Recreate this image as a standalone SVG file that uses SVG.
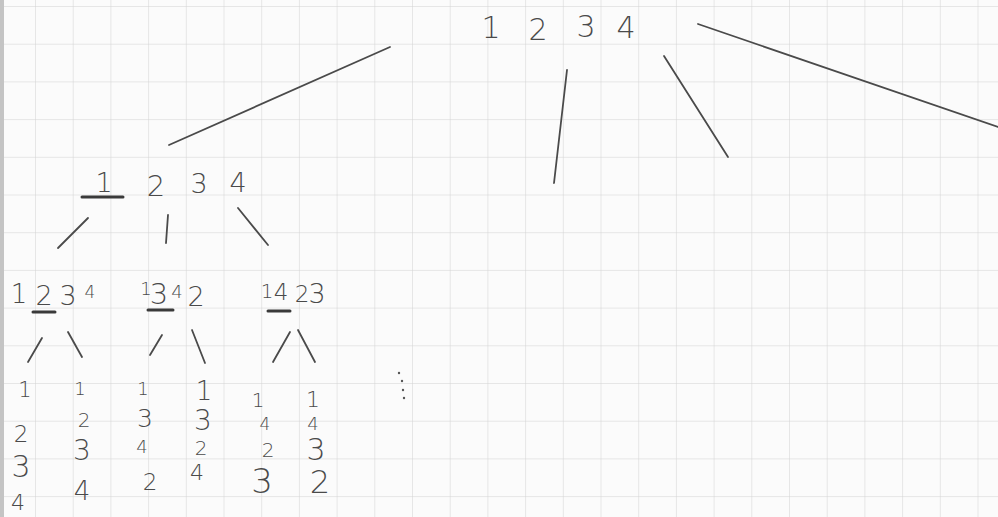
<svg xmlns="http://www.w3.org/2000/svg" width="998" height="517" viewBox="0 0 998 517">
<style>
.d{font-family:"DejaVu Sans","Liberation Sans",sans-serif;font-weight:200;fill:#4a4a4a;text-anchor:middle}
.p{stroke:#4a4a4a;stroke-width:1.8;stroke-linecap:round;fill:none}
.u{stroke:#3a3a3a;stroke-width:3;stroke-linecap:round;fill:none}
.g{stroke:#d2d2d2;stroke-width:1}
.dot{fill:#555}
</style>
<defs>
<pattern id="grid" patternUnits="userSpaceOnUse" x="35" y="6" width="37.7" height="37.7">
<path d="M0 0V37.7M0 0H37.7" class="g"/>
</pattern>
</defs>
<g id="paper">
<rect width="998" height="517" fill="#fbfbfb"/>
<rect width="998" height="517" fill="url(#grid)"/>
<rect x="0" y="0" width="4" height="517" fill="#c4c4c4"/>
</g>
<g id="connectors">
<path class="p" d="M390 47L169 145"/>
<path class="p" d="M567 70L554 183"/>
<path class="p" d="M664 56L728 157"/>
<path class="p" d="M698 24L998 127"/>
<path class="p" d="M88 218L58 248"/>
<path class="p" d="M168 215L166 243"/>
<path class="p" d="M238 208L268 245"/>
<path class="p" d="M42 338L28 362"/>
<path class="p" d="M68 332L82 357"/>
<path class="p" d="M162 335L150 355"/>
<path class="p" d="M192 330L205 363"/>
<path class="p" d="M290 332L273 362"/>
<path class="p" d="M298 330L315 362"/>
</g>
<g id="root">
<text class="d" x="491" y="38" font-size="30">1</text>
<text class="d" x="538" y="40" font-size="30">2</text>
<text class="d" x="586" y="37" font-size="30">3</text>
<text class="d" x="626" y="38" font-size="30">4</text>
</g>
<g id="node-1">
<text class="d" x="104" y="192" font-size="27">1</text>
<path class="u" d="M82 197H123"/>
<text class="d" x="156" y="196" font-size="29">2</text>
<text class="d" x="199" y="193" font-size="27">3</text>
<text class="d" x="238" y="192" font-size="27">4</text>
</g>
<g id="node-12">
<text class="d" x="19" y="303" font-size="26">1</text>
<text class="d" x="44" y="305" font-size="27">2</text>
<path class="u" d="M33 312H55"/>
<text class="d" x="68" y="305" font-size="27">3</text>
<text class="d" x="90" y="298" font-size="17">4</text>
</g>
<g id="node-13">
<text class="d" x="146" y="295" font-size="18">1</text>
<text class="d" x="159" y="304" font-size="29">3</text>
<path class="u" d="M148 310H173"/>
<text class="d" x="177" y="298" font-size="18">4</text>
<text class="d" x="196" y="306" font-size="27">2</text>
</g>
<g id="node-14">
<text class="d" x="267" y="298" font-size="20">1</text>
<text class="d" x="281" y="300" font-size="23">4</text>
<path class="u" d="M268 311H290"/>
<text class="d" x="302" y="302" font-size="23">2</text>
<text class="d" x="317" y="303" font-size="27">3</text>
</g>
<g id="leaf-1234">
<text class="d" x="25" y="397" font-size="21">1</text>
<text class="d" x="21" y="442" font-size="23">2</text>
<text class="d" x="21" y="477" font-size="30">3</text>
<text class="d" x="18" y="510" font-size="22">4</text>
</g>
<g id="leaf-1243">
<text class="d" x="80" y="395" font-size="18">1</text>
<text class="d" x="84" y="427" font-size="20">2</text>
<text class="d" x="82" y="460" font-size="28">3</text>
<text class="d" x="82" y="500" font-size="26">4</text>
</g>
<g id="leaf-1342">
<text class="d" x="143" y="395" font-size="18">1</text>
<text class="d" x="145" y="427" font-size="25">3</text>
<text class="d" x="142" y="453" font-size="18">4</text>
<text class="d" x="150" y="490" font-size="23">2</text>
</g>
<g id="leaf-1324">
<text class="d" x="204" y="400" font-size="26">1</text>
<text class="d" x="203" y="430" font-size="28">3</text>
<text class="d" x="201" y="455" font-size="20">2</text>
<text class="d" x="197" y="480" font-size="22">4</text>
</g>
<g id="leaf-1423">
<text class="d" x="258" y="407" font-size="20">1</text>
<text class="d" x="265" y="430" font-size="17">4</text>
<text class="d" x="268" y="457" font-size="20">2</text>
<text class="d" x="262" y="493" font-size="34">3</text>
</g>
<g id="leaf-1432">
<text class="d" x="313" y="407" font-size="22">1</text>
<text class="d" x="313" y="430" font-size="18">4</text>
<text class="d" x="316" y="460" font-size="30">3</text>
<text class="d" x="320" y="493" font-size="32">2</text>
</g>
<g id="ellipsis">
<circle class="dot" cx="399" cy="373" r="1.2"/>
<circle class="dot" cx="402" cy="381" r="1.2"/>
<circle class="dot" cx="403" cy="390" r="1.2"/>
<circle class="dot" cx="404" cy="398" r="1.2"/>
</g>
</svg>
